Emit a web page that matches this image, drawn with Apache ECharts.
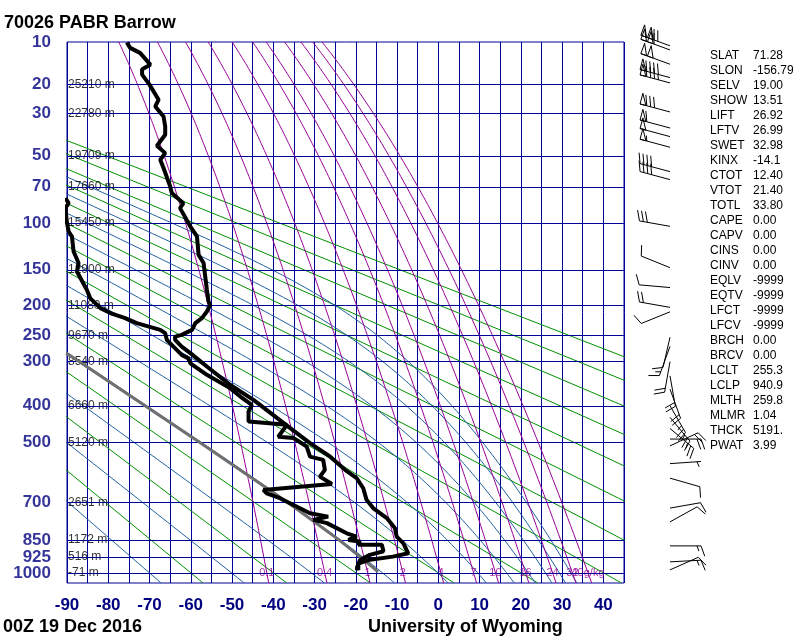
<!DOCTYPE html>
<html><head><meta charset="utf-8">
<script src="https://cdn.jsdelivr.net/npm/echarts@6/dist/echarts.min.js"></script>
<style>html,body{margin:0;padding:0;background:#fff}#c{width:800px;height:640px}</style>
</head><body><div id="c"></div>
<script>
// ---------------- data ----------------
const isobars = [10,20,30,50,70,100,150,200,250,300,400,500,700,850,925,1000];
const heightLabels = ['', '25210 m','22780 m','19709 m','17660 m','15450 m','12900 m','11080 m','9670 m','8540 m','6660 m','5120 m','2651 m','1172 m','516 m','-71 m'];
const dryAdiabatsC = [-60,-40,-20,0,20,40,60,80,100,120,140,160,180];      // potential temperature, deg C
const moistAdiabatsC = [-70,-50,-30,-10,10,30,50,70,90,110,130];          // equivalent potential temperature, deg C
const mixingRatios = [0.1,0.4,1,2,4,7,10,16,24,32,40];
const mixingLabels = ['0.1','0.4','1','2','4','7','10','16','24','32','40g/kg'];

const tempP = [10.1,11.1,12.1,14.7,15.8,17.2,20.0,24.8,27.2,31.1,35.3,39.1,44.6,48.6,52.4,57.4,69.8,74.7,82.6,86.7,103.2,112.9,132.8,142.3,177.1,194.1,199.5,209.5,220.1,228.5,239.9,248.8,251.8,257.7,270.3,282.9,310,349.8,385.4,459,502,543,585,613,648,690,721,760,801,836,864,909,924,940,956,988];
const tempT = [-75.5,-74.7,-72.3,-69.8,-71.8,-71.8,-70.0,-67.8,-68.6,-66.6,-66.2,-66.2,-68.2,-66.2,-67.4,-66.6,-65.0,-64.6,-61.8,-62.6,-60.1,-58.5,-58.1,-56.9,-56.1,-55.7,-55.3,-56.1,-57.3,-58.9,-59.7,-62.2,-63.8,-63.8,-62.2,-60.1,-56.1,-50.5,-44.8,-35.9,-31.1,-26.2,-22.6,-19.8,-18.2,-17.4,-15.8,-12.5,-10.5,-10.1,-8.5,-7.3,-11.0,-17.0,-19.4,-19.4];

const dewP = [78.5,82.6,86.7,100,108,113,129,142.3,152.8,177.1,189,204.2,211.9,220.1,228.5,239.9,245.8,257.7,270.3,286.4,293.3,303.4,327.6,357.6,377.4,397.7,414.7,441,449.9,483.3,487.1,512.1,543,553,585.2,607.8,632.9,642.4,654.1,666,684,741,754,767,780,822,836,850,857,871,871,900,916,940,973,988];
const dewT = [-90.4,-89.6,-90.4,-90.0,-89.6,-88.8,-88.4,-87.2,-87.6,-85.2,-84.4,-81.9,-79.5,-75.9,-73.1,-67.4,-66.2,-65.8,-64.2,-62.2,-60.6,-60.1,-56.1,-50.5,-48.0,-45.2,-46.0,-46.0,-36.7,-38.8,-35.1,-31.9,-31.1,-27.9,-27.5,-28.7,-25.8,-33.5,-42.4,-41.6,-38.4,-31.1,-26.7,-30.3,-27.0,-22.2,-19.8,-21.8,-19.0,-19.4,-13.7,-13.3,-16.6,-19.0,-19.7,-19.7];

const parcelP = [995,941,850,700,500,400,300,283];
const parcelT = [-14.6,-17.9,-24.1,-36.5,-57.8,-71.1,-87.0,-90.2];

const windP   = [10.7,11.5,14.6,18,19.5,29.3,36,40,45.4,59.7,65,103,148,174,203,210,253,270,300,330,360,400,430,460,490,510,565,613,721,775,876,948,986];
const windDir = [290,290,290,285,285,285,285,285,285,285,285,280,292,275,280,248,193,200,190,170,160,150,140,130,90,65,86,106,80,61,90,87,66];
const windSpd = [120,110,100,90,85,80,60,50,55,40,40,30,10,10,20,10,10,15,20,20,20,25,25,25,20,20,5,10,10,10,15,15,10];

const indexNames  = ['SLAT','SLON','SELV','SHOW','LIFT','LFTV','SWET','KINX','CTOT','VTOT','TOTL','CAPE','CAPV','CINS','CINV','EQLV','EQTV','LFCT','LFCV','BRCH','BRCV','LCLT','LCLP','MLTH','MLMR','THCK','PWAT'];
const indexValues = ['71.28','-156.79','19.00','13.51','26.92','26.99','32.98','-14.1','12.40','21.40','33.80','0.00','0.00','0.00','0.00','-9999','-9999','-9999','-9999','0.00','0.00','255.3','940.9','259.8','1.04','5191.','3.99'];

const titleText = '70026 PABR Barrow';
const dateText = '00Z 19 Dec 2016';
const creditText = 'University of Wyoming';

// ---------------- helpers ----------------
const K = 0.2857;
const Yp = p => Math.pow(p, K);
const NAVY = '#000099', LABEL = '#000080', GREEN = '#009000', MBLUE = '#2060a0', PURPLE = '#990099';
const FONT = 'Liberation Sans';
const CLEAR = 'rgba(0,0,0,0)';

function esat(Tc){ return 6.112*Math.exp(17.67*Tc/(Tc+243.5)); }
function dewFromMix(wgkg, p){ const w=wgkg/1000; const e=w*p/(0.622+w); const l=Math.log(e/6.112); return 243.5*l/(17.67-l); }
function lapse(p, Tk){
  const Rd=287.04, cp=1005.7, Lv=2.501e6, eps=0.622;
  const es=esat(Tk-273.15); const rs=eps*es/(p-es);
  return (Rd*Tk + Lv*rs)/(p*(cp + Lv*Lv*rs*eps/(Rd*Tk*Tk)));
}
function rk4(p,T,h){
  const k1=lapse(p,T), k2=lapse(p+h/2,T+h*k1/2), k3=lapse(p+h/2,T+h*k2/2), k4=lapse(p+h,T+h*k3);
  return T + h*(k1+2*k2+2*k3+k4)/6;
}
// pseudo-adiabat with given theta-e: start where it is dry (-100 C) and descend
function moistLine(theC){
  const th = theC+273.15;
  let p = 1000*Math.pow(173.15/th, 1/K);
  let T = 173.15;
  const pts=[[T-273.15, Yp(p)]];
  while(p<1050){ let h=Math.max(0.5, p*0.02); if(p+h>1050) h=1050-p; T=rk4(p,T,h); p+=h; pts.push([T-273.15, Yp(p)]); }
  return pts;
}
function mixLine(w){
  const pts=[]; for(let p=1050;p>10;p*=0.96){ pts.push([dewFromMix(w,p), Yp(p)]); }
  pts.push([dewFromMix(w,10), Yp(10)]); return pts;
}
function dryLine(thC){
  const th=thC+273.15; return [1050,10].map(p=>[th*Math.pow(p/1000,K)-273.15, Yp(p)]);
}

const series = [];
const bg = (data,color,z)=>({type:'line',data,showSymbol:false,symbol:'none',silent:true,animation:false,z:z||1,lineStyle:{color,width:1},clip:true});
dryAdiabatsC.forEach(t=>series.push(bg(dryLine(t),GREEN,1)));
moistAdiabatsC.forEach(t=>series.push(bg(moistLine(t),MBLUE,1)));
mixingRatios.forEach(w=>series.push(bg(mixLine(w),PURPLE,1)));

// isobars
series.push({
  type:'line', z:2, silent:true, data:[],
  markLine:{silent:true, symbol:'none', animation:false, label:{show:false},
    lineStyle:{color:NAVY,type:'solid',width:1},
    data: isobars.slice(1).map(p=>({yAxis:Yp(p)}))}
});
// height labels
series.push({
  type:'scatter', z:4, silent:true, symbolSize:0, itemStyle:{color:CLEAR},
  data: isobars.map((p,i)=>({value:[-90,Yp(p)], label:{show:!!heightLabels[i], formatter:heightLabels[i]}})),
  label:{show:true, position:'right', distance:1, color:'#000', fontSize:12, fontFamily:FONT, textBorderWidth:0}
});
// pressure tick labels (left of the frame)
series.push({
  type:'scatter', z:3, silent:true, symbolSize:0, itemStyle:{color:CLEAR},
  data: isobars.map(p=>({value:[-90,Yp(p)], label:{formatter:String(p)}})),
  label:{show:true, position:'left', distance:16, color:LABEL, fontSize:17, fontWeight:'bold', fontFamily:FONT, textBorderWidth:0}
});
// mixing ratio labels
series.push({
  type:'scatter', z:4, silent:true, symbolSize:0, itemStyle:{color:CLEAR},
  data: mixingRatios.map((w,i)=>({value:[dewFromMix(w,1000), Yp(1000)], label:{formatter:mixingLabels[i]}})),
  label:{show:true, position:'inside', color:PURPLE, fontSize:11, fontFamily:FONT, textBorderWidth:0}
});
// parcel
series.push({type:'line', z:5, silent:true, showSymbol:false, symbol:'none', data: parcelP.map((p,i)=>[parcelT[i],Yp(p)]), lineStyle:{color:'#707070',width:3}});
// dewpoint & temperature
series.push({type:'line', z:6, silent:true, showSymbol:false, symbol:'none', data: dewP.map((p,i)=>[dewT[i],Yp(p)]), lineStyle:{color:'#000',width:4}});
series.push({type:'line', z:6, silent:true, showSymbol:false, symbol:'none', data: tempP.map((p,i)=>[tempT[i],Yp(p)]), lineStyle:{color:'#000',width:4}});

// wind barbs
series.push({
  type:'custom', coordinateSystem:'cartesian2d', clip:false, z:7, silent:true,
  data: windP.map((p,i)=>[45, Yp(p), windDir[i], windSpd[i]]),
  renderItem:(params, api)=>{
    const pt = api.coord([api.value(0), api.value(1)]);
    const bx = pt[0]+46, by = pt[1];
    const a = api.value(2)*Math.PI/180, spd = api.value(3);
    const dx=Math.sin(a), dy=-Math.cos(a), nx=-dy, ny=dx;
    const L=31, F=11;
    const tx=bx+L*dx, ty=by+L*dy;
    const st={stroke:'#000', lineWidth:1, fill:null};
    const ch=[{type:'line', shape:{x1:bx,y1:by,x2:tx,y2:ty}, style:st}];
    const fx=0.94*nx+0.34*dx, fy=0.94*ny+0.34*dy;
    let s=0, rem=Math.round(spd/5)*5;
    while(rem>=50){
      const x1=tx-s*dx, y1=ty-s*dy, x2=tx-(s+6)*dx, y2=ty-(s+6)*dy;
      ch.push({type:'polygon', shape:{points:[[x1,y1],[x2,y2],[x1+F*nx,y1+F*ny]]}, style:{stroke:'#000',lineWidth:1,fill:null}});
      s+=7; rem-=50;
    }
    while(rem>=10){
      const x1=tx-s*dx, y1=ty-s*dy;
      ch.push({type:'line', shape:{x1,y1,x2:x1+F*fx,y2:y1+F*fy}, style:st});
      s+=4; rem-=10;
    }
    if(rem>=5){
      if(s===0) s=4;
      const x1=tx-s*dx, y1=ty-s*dy;
      ch.push({type:'line', shape:{x1,y1,x2:x1+F*0.5*fx,y2:y1+F*0.5*fy}, style:st});
    }
    return {type:'group', children:ch};
  }
});

const graphics = [
  {type:'text', left:4, top:14, style:{text:titleText, fontSize:18, fontWeight:'bold', fontFamily:FONT, fill:'#000'}},
  {type:'text', left:3, top:618, style:{text:dateText, fontSize:18, fontWeight:'bold', fontFamily:FONT, fill:'#000'}},
  {type:'text', left:368, top:618, style:{text:creditText, fontSize:18, fontWeight:'bold', fontFamily:FONT, fill:'#000'}}
];
indexNames.forEach((n,i)=>{
  graphics.push({type:'text', left:710, top:50+15*i, style:{text:n, fontSize:12, fontFamily:FONT, fill:'#000'}});
  graphics.push({type:'text', left:753, top:50+15*i, style:{text:indexValues[i], fontSize:12, fontFamily:FONT, fill:'#000'}});
});

const chart = echarts.init(document.getElementById('c'), null, {renderer:'canvas'});
chart.setOption({
  animation:false,
  backgroundColor:'#fff',
  grid:{left:67, top:42, width:557, height:541, show:true, borderColor:NAVY, borderWidth:1, backgroundColor:'transparent'},
  xAxis:{type:'value', min:-90, max:45, interval:5,
    axisLine:{show:false}, axisTick:{show:false},
    splitLine:{show:true, lineStyle:{color:NAVY,width:1}},
    axisLabel:{formatter:v=> (v%10===0 && v<=40) ? String(v) : '', color:LABEL, fontSize:17, fontWeight:'bold', fontFamily:FONT, margin:14}},
  yAxis:{type:'value', inverse:true, min:Yp(10), max:Yp(1050),
    axisLine:{show:false}, axisTick:{show:false}, splitLine:{show:false}, axisLabel:{show:false}},
  graphic: graphics,
  series
});
</script>
</body></html>
